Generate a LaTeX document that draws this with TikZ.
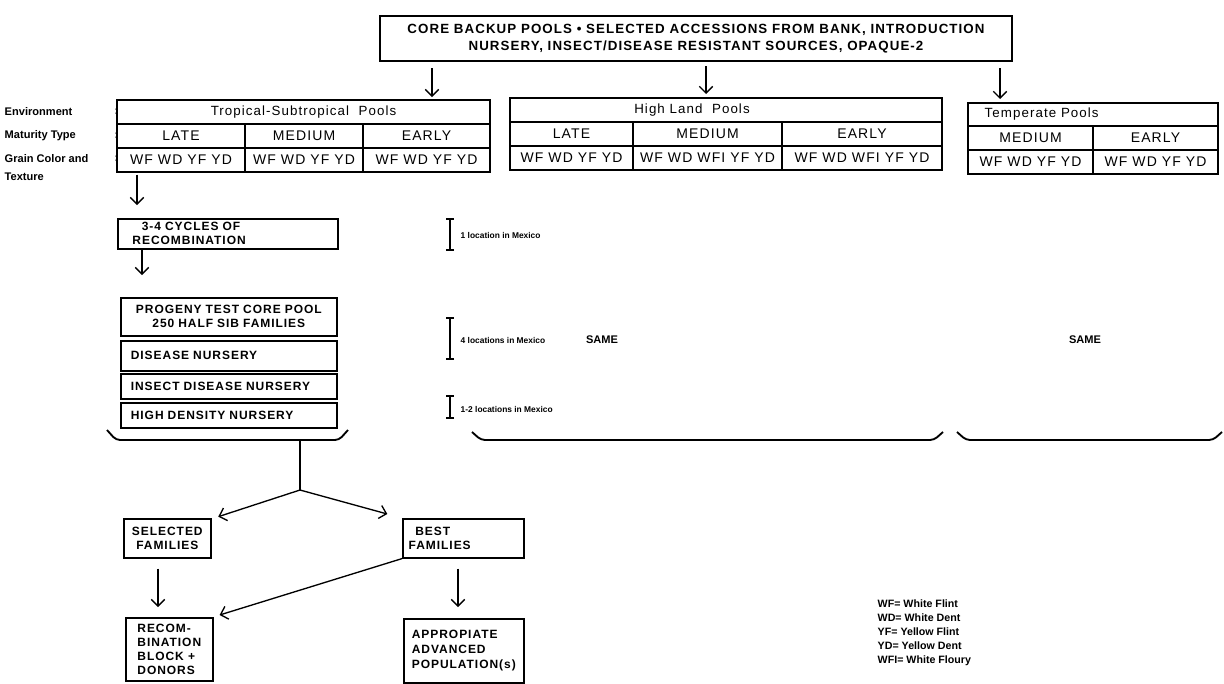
\documentclass[tikz,border=0pt]{standalone}
\usepackage{fontspec}
\setmainfont{Liberation Sans}
\newfontfamily\widefont[LetterSpace=8]{Liberation Sans}
\usetikzlibrary{arrows.meta,fit}

\begin{document}
\begin{tikzpicture}[x=0.75pt,y=-0.75pt,
	box/.style={draw,line width=1.2pt,anchor=north west,inner ysep=2pt,font=\widefont\bfseries\fontsize{9}{10.5}\selectfont},
	cell/.style={draw,line width=1.1pt,inner sep=0pt},
	txt/.style={label={[font=\widefont\fontsize{10.5}{12}\selectfont]center:#1}},
	ttl/.style={label={[font=\widefont\fontsize{10}{12}\selectfont]center:#1}},
	pooltitle/.style={font=\widefont\fontsize{10}{12}\selectfont},
	side/.style={anchor=west,font=\bfseries\fontsize{8.3}{10}\selectfont},
	where/.style={anchor=west,font=\bfseries\fontsize{6.3}{7.5}\selectfont},
	dn/.style={-{Straight Barb[length=5pt,width=10pt,line width=1pt]},line width=1pt},
	ln/.style={line width=1.2pt},
	locbar/.style={{Bar[width=6pt]}-{Bar[width=6pt]},line width=1.8pt},
	brace/.style={line width=1.4pt,rounded corners=3pt}]
	\useasboundingbox (0,0) rectangle (1224,683);

	% core pools
	\node[cell,line width=1.2pt,fit={(380,16) (1012,61)},label={[align=center,font=\widefont\bfseries\fontsize{10}{13}\selectfont]center:CORE BACKUP POOLS • SELECTED ACCESSIONS FROM BANK, INTRODUCTION\\NURSERY, INSECT/DISEASE RESISTANT SOURCES, OPAQUE-2}] (core) {};
	\coordinate (c1) at (432,68);  \coordinate (c1e) at (432,97);
	\coordinate (c2) at (706,66);  \coordinate (c2e) at (706,94);
	\coordinate (c3) at (1000,68); \coordinate (c3e) at (1000,99);
	\draw[dn] (c1) -- (c1e);
	\draw[dn] (c2) -- (c2e);
	\draw[dn] (c3) -- (c3e);

	% row labels
	\node[side] (env) at (0,112) {Environment};
	\node[side] (envc) at (110,112) {:};
	\node[side] (mat) at (0,136) {Maturity Type};
	\node[side] (matc) at (110,136) {:};
	\node[side] (grain) at (0,159) {Grain Color and};
	\node[side] (grainc) at (110,159) {:};
	\node[side] (tex) at (0,177) {Texture};

	% tropical-subtropical pools
	\node[cell,fit={(117,100) (490,124)},ttl={Tropical-Subtropical\ \ Pools}] (trop) {};
	\node[cell,fit={(117,124) (245,148)},txt=LATE] (tlate) {};
	\node[cell,fit={(245,124) (363,148)},txt=MEDIUM] (tmed) {};
	\node[cell,fit={(363,124) (490,148)},txt=EARLY] (tearly) {};
	\node[cell,fit={(117,148) (245,172)},txt={WF WD YF YD}] (tlatec) {};
	\node[cell,fit={(245,148) (363,172)},txt={WF WD YF YD}] (tmedc) {};
	\node[cell,fit={(363,148) (490,172)},txt={WF WD YF YD}] (tearlyc) {};

	% high land pools
	\node[cell,fit={(510,98) (942,122)}] (high) {};
	\node[pooltitle] (hightxt) at (692,110) {High Land\ \ Pools};
	\node[cell,fit={(510,122) (633,146)},txt=LATE] (hlate) {};
	\node[cell,fit={(633,122) (782,146)},txt=MEDIUM] (hmed) {};
	\node[cell,fit={(782,122) (942,146)},txt=EARLY] (hearly) {};
	\node[cell,fit={(510,146) (633,170)},txt={WF WD YF YD}] (hlatec) {};
	\node[cell,fit={(633,146) (782,170)},txt={WF WD WFI YF YD}] (hmedc) {};
	\node[cell,fit={(782,146) (942,170)},txt={WF WD WFI YF YD}] (hearlyc) {};

	% temperate pools
	\node[cell,fit={(968,103) (1218,126)}] (temp) {};
	\node[pooltitle,anchor=west] (temptxt) at (980,114.5) {Temperate Pools};
	\node[cell,fit={(968,126) (1093,150)},txt=MEDIUM] (pmed) {};
	\node[cell,fit={(1093,126) (1218,150)},txt=EARLY] (pearly) {};
	\node[cell,fit={(968,150) (1093,174)},txt={WF WD YF YD}] (pmedc) {};
	\node[cell,fit={(1093,150) (1218,174)},txt={WF WD YF YD}] (pearlyc) {};

	% recombination and progeny test
	\node[box,minimum width=165pt,minimum height=22.5pt,text width=143pt,inner xsep=11pt,align=left] (cycles) at (117,218) {\hspace*{7pt}3-4 CYCLES OF\\RECOMBINATION};
	\coordinate (c4) at (137,205);
	\draw[dn,shorten <=1.5pt] (tlatec.south -| c4) -- (c4);
	\coordinate (c5) at (142,275);
	\draw[dn] (cycles.south -| c5) -- (c5);

	\node[box,minimum height=28.5pt,text width=147pt,inner xsep=7.5pt,align=center] (progeny) at (120,297) {PROGENY TEST CORE POOL\\250 HALF SIB FAMILIES};
	\node[box,minimum height=22.5pt,text width=147pt,inner xsep=7.5pt,align=left] (disease) at (120,340) {DISEASE NURSERY};
	\node[box,minimum height=18.75pt,text width=147pt,inner xsep=7.5pt,align=left] (insect) at (120,373) {INSECT DISEASE NURSERY};
	\node[box,minimum height=18.75pt,text width=147pt,inner xsep=7.5pt,align=left] (density) at (120,402) {HIGH DENSITY NURSERY};

	% locations
	\draw[locbar] (450,218) -- (450,251);
	\node[where] (loc1) at (456,235) {1 location in Mexico};
	\draw[locbar] (450,317) -- (450,360);
	\node[where] (loc4) at (456,340) {4 locations in Mexico};
	\draw[locbar] (450,395) -- (450,419);
	\node[where] (loc12) at (456,409) {1-2 locations in Mexico};
	\node[side,anchor=center] (same1) at (602,340) {SAME};
	\node[side,anchor=center] (same2) at (1085,340) {SAME};

	% braces
	\draw[brace] (107,430) -- (116,440) -- (339,440) -- (348,430);
	\draw[brace] (472,432) -- (481,440) -- (934,440) -- (943,432);
	\draw[brace] (957,432) -- (966,440) -- (1213,440) -- (1222,432);

	% selection
	\node[box,minimum width=65.25pt,minimum height=29.25pt,align=center] (sel) at (123,518) {SELECTED\\FAMILIES};
	\node[box,minimum height=29.25pt,text width=82pt,inner xsep=4.4pt,align=left] (best) at (402,518) {\hspace*{5pt}BEST\\FAMILIES};
	\node[box,minimum width=65.25pt,minimum height=47.25pt,align=left] (recomb) at (125,617) {RECOM-\\BINATION\\BLOCK +\\DONORS};
	\node[box,minimum width=90pt,minimum height=48pt,align=left,font=\widefont\bfseries\fontsize{9}{11.25}\selectfont] (appr) at (403,618) {APPROPIATE\\ADVANCED\\POPULATION(s)};

	\coordinate (bmid) at (300,440);
	\coordinate (fork) at (300,490);
	\draw[ln] (bmid) -- (fork);
	\draw[dn] (fork) -- ([xshift=5pt,yshift=1pt]sel.north east);
	\draw[dn] (fork) -- ([xshift=-11pt,yshift=3pt]best.north west);
	\coordinate (c6) at (158,607);
	\draw[dn,shorten <=7.5pt] (sel.south -| c6) -- (c6);
	\coordinate (c7) at (458,607);
	\draw[dn,shorten <=7.5pt] (best.south -| c7) -- (c7);
	\draw[dn] (best.south west) -- ([xshift=4.5pt,yshift=1.5pt]recomb.north east);

	% key
	\node[where,anchor=north west,align=left,font=\bfseries\fontsize{8}{10.5}\selectfont] (key) at (873,595) {WF= White Flint\\WD= White Dent\\YF= Yellow Flint\\YD= Yellow Dent\\WFI= White Floury};
\end{tikzpicture}
\end{document}
